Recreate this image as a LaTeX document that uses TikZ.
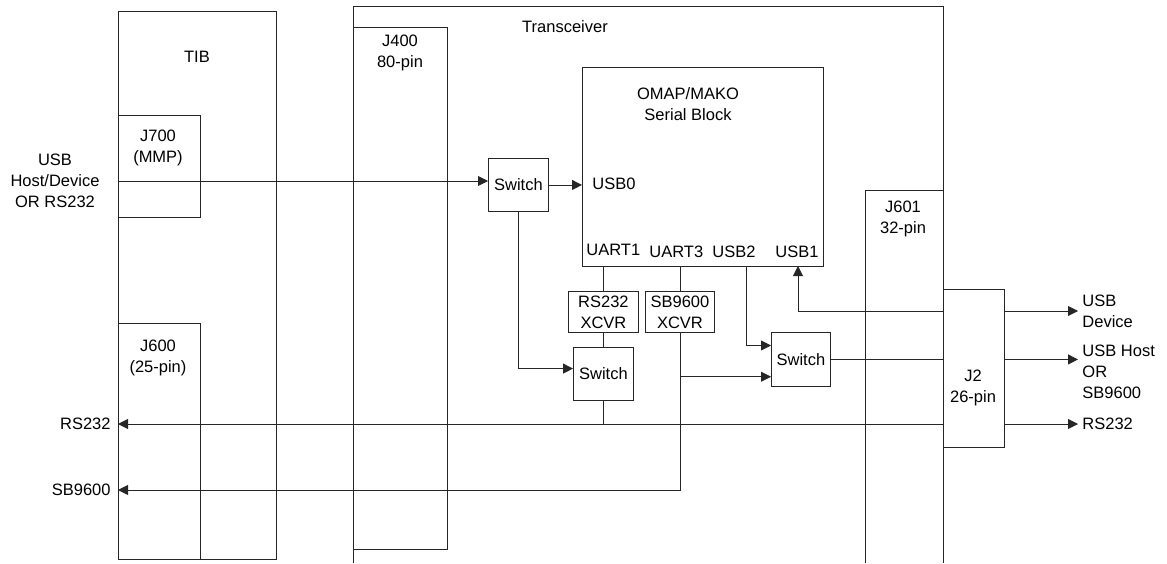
\documentclass[tikz,border=0pt]{standalone}
\usepackage{fontspec}
\setmainfont{Liberation Sans}
\usetikzlibrary{arrows.meta}

\begin{document}
\begin{tikzpicture}[x=1pt, y=-1pt, line width=0.9pt, black!85,
  font=\fontsize{16.5}{21}\selectfont,
  box/.style={draw, anchor=north west, inner sep=0pt, text=black},
  txt/.style={align=center, inner sep=0pt, text=black},
  arr/.style={-{Triangle[length=10pt,width=10pt]}}]
\useasboundingbox (0,0) rectangle (1167,563);

% boards
\node[box, minimum width=158, minimum height=548] (tib) at (118,11) {};
\node[box, minimum width=82, minimum height=102] (j700) at (118,115) {};
\node[box, minimum width=82, minimum height=236] (j600) at (118,323) {};
\draw (353,563) |- (943,6) -- (943,563);
\node[box, minimum width=94, minimum height=522] (j400) at (353,27) {};
\node[box, minimum width=241, minimum height=199] (omap) at (582,67) {};
\draw (865,563) |- (943,190);
\node[box, minimum width=61, minimum height=158] (j2) at (943,289) {};

% switches and transceivers
\node[box, minimum width=60, minimum height=53] (sw1) at (488,158) {Switch};
\node[box, minimum width=70, minimum height=41, align=center] (rsx) at (568,291) {RS232\\XCVR};
\node[box, minimum width=69, minimum height=41, align=center] (sbx) at (645,291) {SB9600\\XCVR};
\node[box, minimum width=60, minimum height=53] (sw2) at (573,347) {Switch};
\node[box, minimum width=59, minimum height=54] (sw3) at (771,332) {Switch};

% titles
\node[txt] (tibt) at (197,57) {TIB};
\node[txt] (trxt) at (565,27) {Transceiver};
\node[txt] (j400t) at (400,53) {J400\\80-pin};
\node[txt] (j700t) at (158,148) {J700\\(MMP)};
\node[txt] (j600t) at (158,358) {J600\\(25-pin)};
\node[txt] (omapt) at (688,104) {OMAP/MAKO\\Serial Block};
\node[txt] (j601t) at (903,219) {J601\\32-pin};
\node[txt] (j2t) at (973,388) {J2\\26-pin};

% ports
\node[txt, anchor=west] (usb0) at (592,184) {USB0};
\node[txt, anchor=west] (uart1) at (586,250) {UART1};
\node[txt, anchor=west] (uart3) at (649,252) {UART3};
\node[txt, anchor=west] (usb2t) at (712,252) {USB2};
\node[txt, anchor=west] (usb1t) at (775,252) {USB1};
\coordinate (usb2) at (746,266);
\coordinate (usb1) at (798,266);

% outside signals
\node[txt] (usbin) at (55,181) {USB\\Host/Device\\OR RS232};
\node[txt, anchor=east] (rsl) at (111,424) {RS232};
\node[txt, anchor=east] (sbl) at (111,490) {SB9600};
\node[txt, anchor=west, align=left] (usbdev) at (1082,311) {USB\\Device};
\node[txt, anchor=west, align=left] (usbhost) at (1082,372) {USB Host\\OR\\SB9600};
\node[txt, anchor=west] (rsr) at (1082,424) {RS232};

\draw[arr] (j700.west |- usbin) -- (sw1.west |- usbin);
\draw[arr] (sw1.east) -- (sw1.east -| omap.west);
\draw[arr] (sw1.south) |- (sw2.170);
\draw (rsx.north |- omap.south) -- (rsx.north);
\draw (sbx.north |- omap.south) -- (sbx.north);
\draw (rsx.south) -- (sw2.north);
\draw[arr] (usb2) |- (sw3.155);
\draw[arr] (sbx.south |- sw3.210) -- (sw3.210);
\draw[arr] (sbx.south) |- (j600.west |- sbl);
\draw (sw3.east) -- (sw3.east -| j2.west);
\draw[arr] (j2.west |- usbdev) -| (usb1);
\draw[arr] (j2.west |- rsl) -- (j600.west |- rsl);
\draw (sw2.south) -- (sw2.south |- rsl);
\draw[arr, shorten >=4pt] (j2.east |- usbdev) -- (usbdev.west);
\draw[arr, shorten >=4pt] (j2.east |- sw3.east) -- (usbhost.west |- sw3.east);
\draw[arr, shorten >=4pt] (j2.east |- rsr) -- (rsr.west);
\end{tikzpicture}
\end{document}
